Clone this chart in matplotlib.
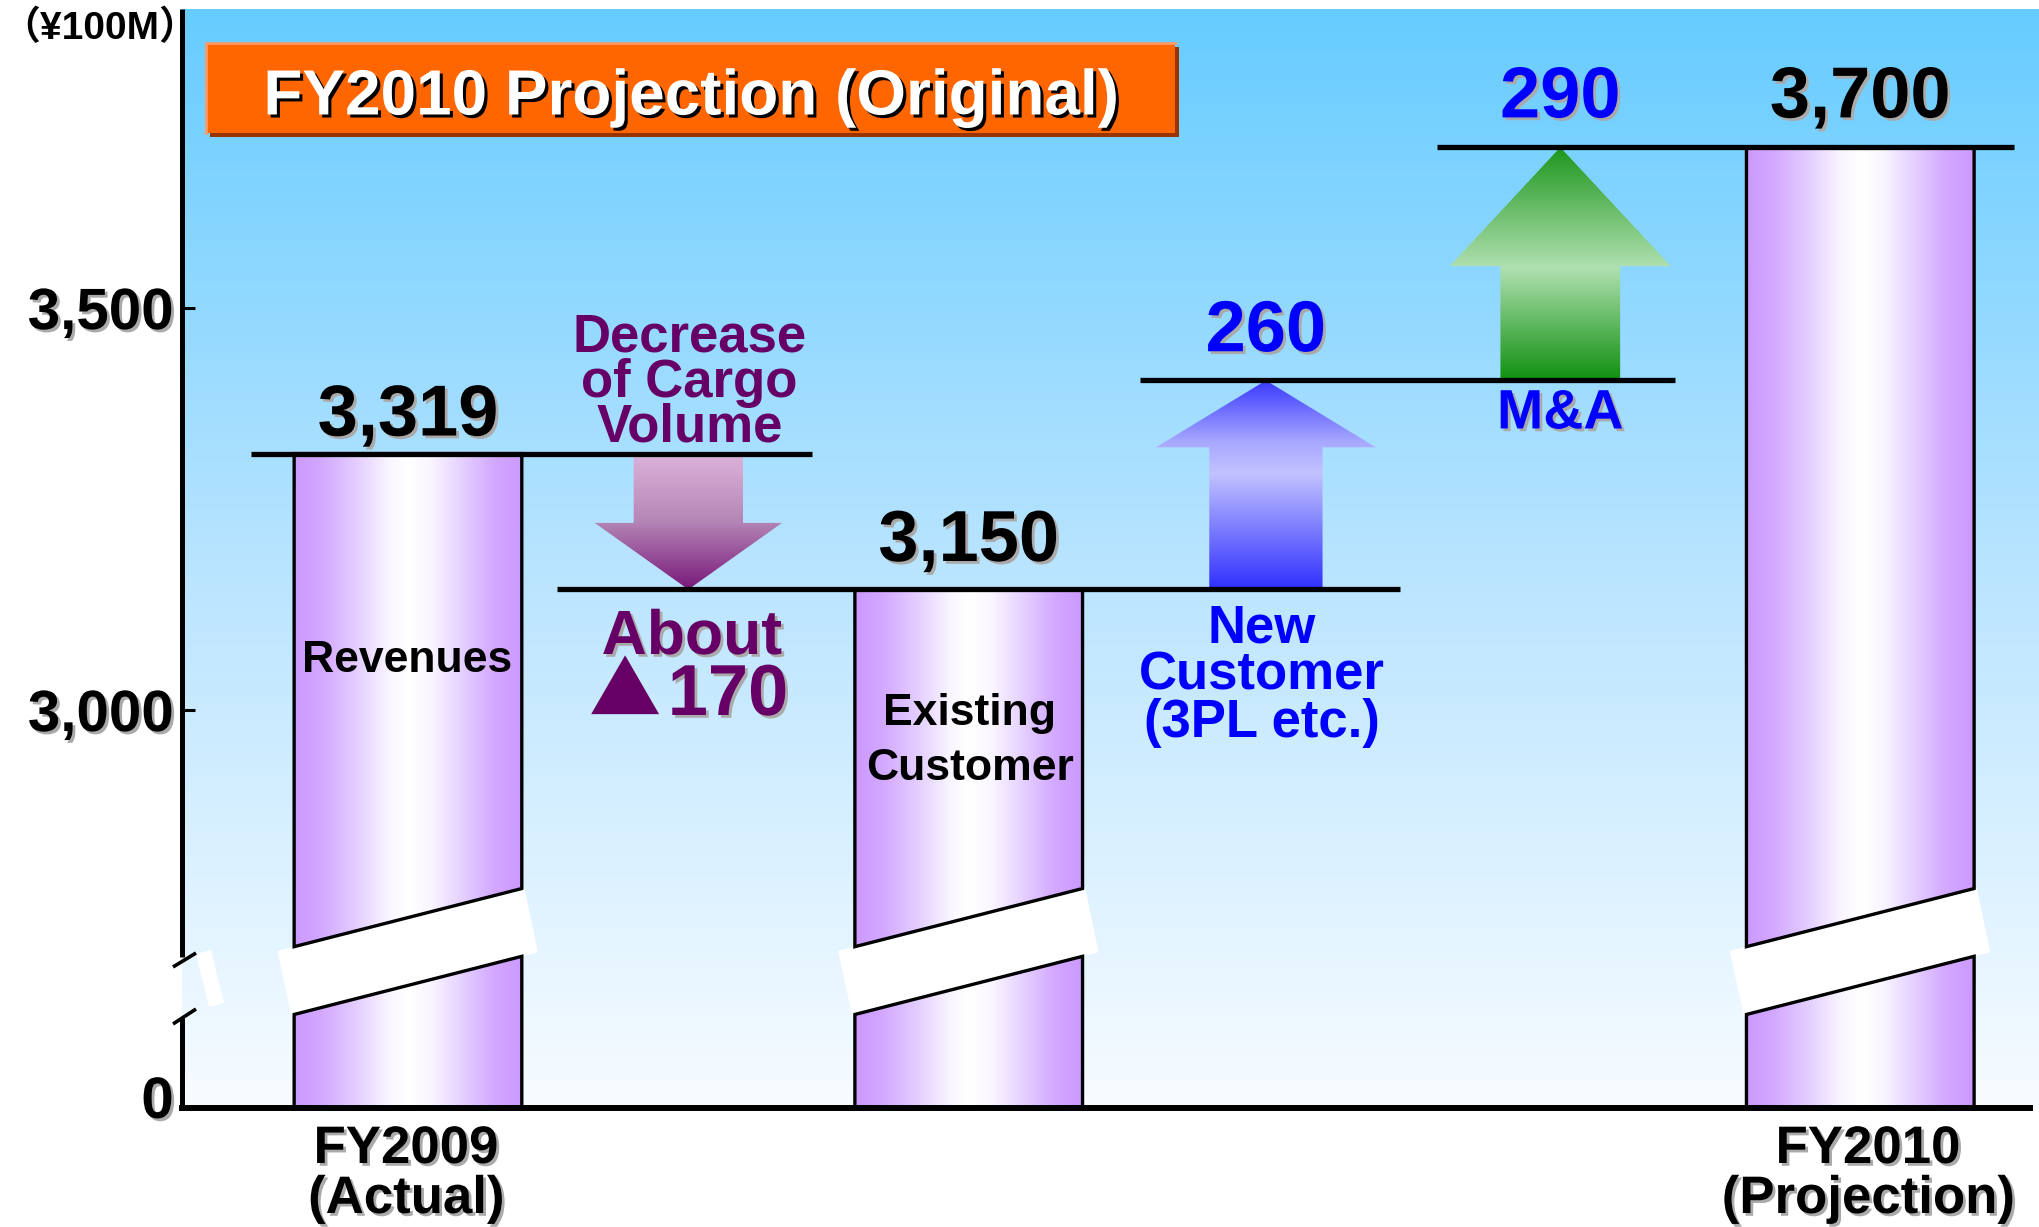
import numpy as np
import matplotlib
matplotlib.use("Agg")
import matplotlib.pyplot as plt
import matplotlib.patheffects as pe
from matplotlib.colors import LinearSegmentedColormap
from matplotlib.patches import Polygon, Rectangle
from matplotlib.lines import Line2D
from matplotlib.transforms import ScaledTranslation

#####################################################################
# data (unit: 100 million yen)
fy2009_actual = 3319
cargo_decrease = 170          # "About ▲170"
existing_customer = 3150
new_customer = 260
mna = 290
fy2010_projection = 3700

bar_vals = [fy2009_actual, existing_customer, fy2010_projection]
bar_inside = ['Revenues', 'Existing\nCustomer', '']
x_labels = ['FY2009\n(Actual)', 'FY2010\n(Projection)']
ytick_vals = [0, 3000, 3500]
ytick_labels = ['0', '3,000', '3,500']

after_new = existing_customer + new_customer
step_levels = [fy2009_actual, existing_customer, after_new, after_new + mna]

#####################################################################
# layout (pixels of the 2040x1227 output)
W, H = 2040, 1227
AX_L, AX_R, AX_B, AX_T = 182, 2040, 1108, 9
XLIM = (-0.806, 5.821)
YTOP = 3872
LOW, BRK = 2505.0, 2700.0          # broken axis: 0..2700 squeezed

x_bar = [0.0, 2.0, 5.18]
x_cargo, x_new, x_mna = 1.0, 3.06, 4.11
bar_w = 0.812
step_spans = [(-0.56, 1.44), (0.53, 3.54), (2.61, 4.52), (3.67, 5.73)]

plt.rcParams['font.family'] = ['Liberation Sans', 'Noto Sans CJK JP', 'DejaVu Sans']
plt.rcParams['font.weight'] = 'bold'

shadow = [pe.withSimplePatchShadow(offset=(2, -2), shadow_rgbFace='#aaaaaa', alpha=1)]

#####################################################################
fig = plt.figure(figsize=(W / 100, H / 100), dpi=100)
ax = fig.add_axes([AX_L / W, 1 - AX_B / H, (AX_R - AX_L) / W, (AX_B - AX_T) / H])


def fwd(v):
    v = np.asarray(v, dtype=float)
    return np.where(v >= BRK, v, LOW + v * (BRK - LOW) / BRK)


def inv(u):
    u = np.asarray(u, dtype=float)
    return np.where(u >= BRK, u, (u - LOW) * BRK / (BRK - LOW))


ax.set_yscale('function', functions=(fwd, inv))
ax.set_xlim(*XLIM)
ax.set_ylim(0, YTOP)
ax.set_autoscale_on(False)


def frac_val(f):
    return float(inv(LOW + f * (YTOP - LOW)))


def pxax(px, py):
    return ((px - AX_L) / (AX_R - AX_L), (AX_B - py) / (AX_B - AX_T))


#####################################################################
# colours
bg_cmap = LinearSegmentedColormap.from_list('bg', [(0, '#f8fcff'), (0.5, '#b8e4ff'), (1, '#66ccff')])
bar_cmap = LinearSegmentedColormap.from_list('bar', [
    (0, '#cc99ff'), (0.12, '#d3a8ff'), (0.27, '#e3cdff'), (0.42, '#faf6ff'), (0.5, '#ffffff'),
    (0.6, '#faf6ff'), (0.75, '#e3cdff'), (0.88, '#d3a8ff'), (1, '#cc99ff')])
cargo_cmap = LinearSegmentedColormap.from_list('cargo', [(0, '#7a1a7a'), (0.5, '#b486b6'), (1, '#ddb3da')])
new_cmap = LinearSegmentedColormap.from_list('new', [(0, '#3030ff'), (0.55, '#c2c2ff'), (0.7, '#a8a8ff'), (1, '#3838ff')])
mna_cmap = LinearSegmentedColormap.from_list('mna', [(0, '#109010'), (0.48, '#b0e0b0'), (1, '#1c961c')])

ax.imshow(np.linspace(0, 1, 256)[:, None], cmap=bg_cmap, extent=(0, 1, 0, 1),
          transform=ax.transAxes, origin='lower', aspect='auto', zorder=0)


def grad_poly(xy, cmap, horizontal, z, edge='none', lw=0):
    poly = Polygon(xy, closed=True, facecolor='none', edgecolor=edge, lw=lw,
                   zorder=z + 0.1, joinstyle='miter')
    ax.add_patch(poly)
    d2a = ax.transData + ax.transAxes.inverted()
    pts = d2a.transform(np.array(xy, dtype=float))
    (x0, y0), (x1, y1) = pts.min(0), pts.max(0)
    g = np.linspace(0, 1, 256)
    g = g[None, :] if horizontal else g[:, None]
    im = ax.imshow(g, cmap=cmap, extent=(x0, x1, y0, y1), transform=ax.transAxes,
                   origin='lower', aspect='auto', interpolation='bilinear', zorder=z)
    im.set_clip_path(poly)


def arrow_xy(xc, y0, y1, shaft, head, head_frac):
    yb = y1 - head_frac * (y1 - y0)
    return [(xc - shaft / 2, y0), (xc + shaft / 2, y0), (xc + shaft / 2, yb), (xc + head / 2, yb),
            (xc, y1), (xc - head / 2, yb), (xc - shaft / 2, yb)]


#####################################################################
# bars with the break band
CUT_UP = (0.1468, 0.1997)
CUT_LO = (0.0851, 0.1380)
for xc, val in zip(x_bar, bar_vals):
    x0, x1 = xc - bar_w / 2, xc + bar_w / 2

    def fu(x):
        return CUT_UP[0] + (x - x0) * (CUT_UP[1] - CUT_UP[0]) / bar_w

    def fl(x):
        return CUT_LO[0] + (x - x0) * (CUT_LO[1] - CUT_LO[0]) / bar_w

    band = [(x0 - 0.06, frac_val(fu(x0 - 0.06))), (x1 + 0.01, frac_val(fu(x1 + 0.01))),
            (x1 + 0.057, frac_val(fl(x1 + 0.057))), (x0 - 0.01, frac_val(fl(x0 - 0.01)))]
    ax.add_patch(Polygon(band, closed=True, facecolor='white', edgecolor='none', zorder=1.5))

    upper = [(x0, frac_val(fu(x0))), (x1, frac_val(fu(x1))), (x1, val), (x0, val)]
    lower = [(x0, 0), (x1, 0), (x1, frac_val(fl(x1))), (x0, frac_val(fl(x0)))]
    grad_poly(upper, bar_cmap, True, 2, edge='black', lw=2.4)
    grad_poly(lower, bar_cmap, True, 2, edge='black', lw=2.4)

# arrows
grad_poly(arrow_xy(x_cargo, fy2009_actual, existing_customer, 0.39, 0.668, 0.49), cargo_cmap, False, 2)
grad_poly(arrow_xy(x_new, existing_customer, after_new, 0.404, 0.784, 0.32), new_cmap, False, 2)
grad_poly(arrow_xy(x_mna, after_new, after_new + mna, 0.427, 0.789, 0.51), mna_cmap, False, 2)

# step lines
for lvl, (xa, xb) in zip(step_levels, step_spans):
    ax.hlines(lvl, xa, xb, colors='black', lw=3.8, zorder=3)

#####################################################################
# axes decoration
ax.set_xticks([])
ax.set_yticks(ytick_vals)
ax.set_yticklabels(ytick_labels, fontsize=42, fontweight='bold')
ax.tick_params(axis='y', direction='in', length=9, width=2.2, pad=6)
for lbl in ax.get_yticklabels():
    lbl.set_path_effects(shadow)
zero_lbl = ax.get_yticklabels()[0]
zero_lbl.set_transform(zero_lbl.get_transform() + ScaledTranslation(0, 8 / 72, fig.dpi_scale_trans))
for s in ['top', 'right', 'left']:
    ax.spines[s].set_visible(False)
ax.spines['bottom'].set_linewidth(4.3)
ax.spines['bottom'].set_bounds(XLIM[0], 5.785)

# left axis drawn in two pieces with break marks
for (pa, pb) in [((182, 9), (182, 957)), ((182, 1018), (182, 1110))]:
    a, b = pxax(*pa), pxax(*pb)
    ax.add_line(Line2D([a[0], b[0]], [a[1], b[1]], transform=ax.transAxes, color='black',
                       lw=3.6, clip_on=False, zorder=4, solid_capstyle='butt'))
gap = [pxax(196, 954), pxax(211, 950), pxax(224, 1003), pxax(209, 1007)]
ax.add_patch(Polygon(gap, closed=True, transform=ax.transAxes, facecolor='white',
                     edgecolor='none', zorder=1.5, clip_on=False))
for (pa, pb) in [((173, 967), (196, 953)), ((173, 1024), (196, 1009))]:
    a, b = pxax(*pa), pxax(*pb)
    ax.add_line(Line2D([a[0], b[0]], [a[1], b[1]], transform=ax.transAxes, color='black',
                       lw=2.6, clip_on=False, zorder=4, solid_capstyle='butt'))

#####################################################################
# value labels
val_offsets = [13, 20.5, 21.5]
for xc, val, off in zip(x_bar, bar_vals, val_offsets):
    ax.annotate(f"{val:,}", (xc, val), xytext=(0, off), textcoords='offset points',
                ha='center', va='baseline', fontsize=52, color='black', path_effects=shadow, zorder=6)
ax.annotate(f"{new_customer}", (x_new, after_new), xytext=(0, 21), textcoords='offset points',
            ha='center', va='baseline', fontsize=52, color='#0000ff', path_effects=shadow, zorder=6)
ax.annotate(f"{mna}", (x_mna, after_new + mna), xytext=(0, 21.5), textcoords='offset points',
            ha='center', va='baseline', fontsize=52, color='#0000ff', path_effects=shadow, zorder=6)
ax.annotate('M&A', (x_mna, after_new), xytext=(0, -24.5), textcoords='offset points',
            ha='center', va='center', fontsize=40, color='#0000ff', path_effects=shadow, zorder=6)


def ftext(px, py, s, **kw):
    return fig.text(px / W, 1 - py / H, s, ha=kw.pop('ha', 'center'), multialignment='center', **kw)


# labels inside bars
ftext(407, 660, bar_inside[0], va='center', fontsize=32, color='black')
ftext(970, 741, bar_inside[1], va='center', fontsize=32, color='black', linespacing=1.42)

# step descriptions
ftext(689.5, 382.5, 'Decrease\nof Cargo\nVolume', va='center', fontsize=38, color='#660066', linespacing=0.87)
ftext(692, 654, 'About', va='baseline', fontsize=45, color='#660066', path_effects=shadow)
ftext(661, 715, '▲', va='baseline', ha='right', fontsize=52, color='#660066',
      family=['Noto Sans CJK JP', 'DejaVu Sans'])
ftext(728, 715, f'{cargo_decrease}', va='baseline', fontsize=52, color='#660066', path_effects=shadow)
ftext(1262, 676, 'New\nCustomer\n(3PL etc.)', va='center', fontsize=38, color='#0000ff', linespacing=0.93)

# category labels
ftext(406, 1124, x_labels[0], va='top', fontsize=38, color='black', linespacing=1.0, path_effects=shadow)
ftext(1868, 1124, x_labels[1], va='top', fontsize=38, color='black', linespacing=1.0, path_effects=shadow)

# unit
ftext(1, 28, '（¥100M）', ha='left', va='center', fontsize=28, color='black')

#####################################################################
# title box
fig.add_artist(Rectangle((210 / W, 1 - 137 / H), 969 / W, 90 / H, transform=fig.transFigure,
                         facecolor='#993300', edgecolor='none', zorder=1))
fig.add_artist(Rectangle((206 / W, 1 - 133 / H), 969 / W, 90 / H, transform=fig.transFigure,
                         facecolor='#ff6600', edgecolor='none', zorder=1.1))
fig.add_artist(Line2D([206 / W, 206 / W, 1175 / W], [1 - 133 / H, 1 - 43 / H, 1 - 43 / H],
                      transform=fig.transFigure, color='#ff9966', lw=2, zorder=1.2))
fig.text(691 / W, 1 - 114.5 / H, 'FY2010 Projection (Original)', ha='center', va='baseline',
         fontsize=46, color='white', zorder=5,
         path_effects=[pe.withSimplePatchShadow(offset=(2.2, -2.2), shadow_rgbFace='black', alpha=1)])

ax.set_xlim(*XLIM)
ax.set_ylim(0, YTOP)
fig.savefig('out.png', dpi=100, facecolor='white')
